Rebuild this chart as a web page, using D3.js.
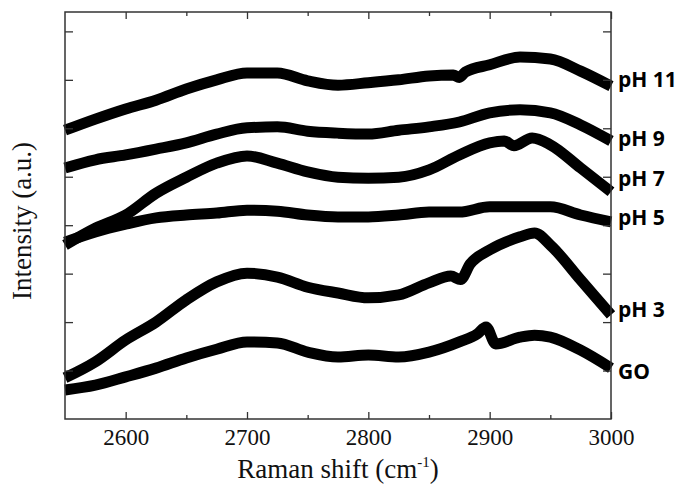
<!DOCTYPE html>
<html>
<head>
<meta charset="utf-8">
<script src="https://cdn.jsdelivr.net/npm/d3@7"></script>
<style>
  body { margin: 0; background: #fff; }
</style>
</head>
<body>
<svg id="chart"></svg>
<script>
// spectra: [Raman shift, intensity a.u. (offset)]
var pH11 = [[2550,5.96],[2575,6.19],[2600,6.40],[2625,6.58],[2650,6.81],[2675,7.00],[2700,7.14],[2725,7.14],
            [2750,6.98],[2775,6.89],[2800,6.94],[2825,7.00],[2850,7.08],[2870,7.10],[2875,7.05],[2880,7.16],
            [2900,7.31],[2925,7.47],[2950,7.43],[2975,7.18],[3000,6.87]];
var pH9 = [[2550,5.18],[2575,5.35],[2600,5.45],[2625,5.57],[2650,5.70],[2675,5.88],[2700,6.01],[2725,6.03],
           [2750,5.94],[2775,5.90],[2800,5.88],[2825,5.96],[2850,6.03],[2875,6.13],[2900,6.32],[2925,6.38],
           [2950,6.32],[2975,6.07],[3000,5.74]];
var pH7 = [[2550,3.59],[2575,3.94],[2600,4.21],[2625,4.66],[2650,4.99],[2675,5.28],[2700,5.43],[2725,5.28],
           [2750,5.10],[2775,4.99],[2800,4.97],[2825,4.99],[2850,5.14],[2875,5.45],[2900,5.70],[2912,5.74],
           [2920,5.64],[2935,5.80],[2950,5.66],[2975,5.18],[3000,4.69]];
var pH5 = [[2550,3.65],[2575,3.86],[2600,4.02],[2625,4.15],[2650,4.21],
           [2675,4.25],[2700,4.31],[2725,4.29],[2750,4.21],[2775,4.17],[2800,4.17],[2825,4.21],[2850,4.27],
           [2875,4.27],[2900,4.38],[2925,4.38],[2950,4.38],[2975,4.21],[3000,4.07]];
var pH3 = [[2550,0.85],[2575,1.18],[2600,1.63],[2625,2.00],[2650,2.46],[2675,2.83],[2700,3.01],[2725,2.93],
           [2750,2.72],[2775,2.60],[2800,2.50],[2825,2.56],[2850,2.81],[2868,2.95],[2876,2.88],[2884,3.20],
           [2900,3.49],[2925,3.76],[2937,3.84],[2950,3.59],[2975,2.87],[3000,2.15]];
var GO = [[2550,0.60],[2575,0.70],[2600,0.87],[2625,1.05],[2650,1.26],[2675,1.44],[2700,1.59],[2725,1.57],
          [2750,1.38],[2775,1.28],[2800,1.32],[2825,1.28],[2850,1.38],[2875,1.59],[2890,1.76],[2897,1.90],
          [2905,1.55],[2925,1.69],[2937,1.73],[2950,1.69],[2975,1.42],[3000,1.05]];

var seriesNames = ["pH 11", "pH 9", "pH 7", "pH 5", "pH 3", "GO"];
var seriesData = [pH11, pH9, pH7, pH5, pH3, GO];
var labelLevels = [7.0, 5.8, 4.97, 4.17, 2.27, 0.99];

var xMajorTicks = [2600, 2700, 2800, 2900, 3000];
var xMinorTicks = [2650, 2750, 2850, 2950];
var yTicks = [1, 2, 3, 4, 5, 6, 7, 8];

var serif = "Liberation Serif";
var sans = "Open Sans";

var dimensions = {
    width: 680,
    height: 488,
    margins: { top: 12, right: 69, bottom: 69, left: 65 }
};
var w = dimensions.width - dimensions.margins.left - dimensions.margins.right;
var h = dimensions.height - dimensions.margins.top - dimensions.margins.bottom;

var svg = d3.select("#chart")
    .attr("width", dimensions.width)
    .attr("height", dimensions.height);

var g = svg.append("g")
    .attr("transform", "translate(" + dimensions.margins.left + "," + dimensions.margins.top + ")");

var xScale = d3.scaleLinear().domain([2550, 3000]).range([0, w]);
var yScale = d3.scaleLinear().domain([0, 8.4]).range([h, 0]);

// spectra
var line = d3.line()
    .x(d => xScale(d[0]))
    .y(d => yScale(d[1]))
    .curve(d3.curveMonotoneX);

g.append("g")
    .selectAll("path")
    .data(seriesData)
    .enter()
    .append("path")
    .attr("d", line)
    .attr("fill", "none")
    .attr("stroke", "#000")
    .attr("stroke-width", 11)
    .attr("stroke-linejoin", "round");

// axes, ticks pointing inward
function styleAxis(sel) {
    sel.select(".domain").remove();
    sel.selectAll("line").attr("stroke", "#333").attr("stroke-width", 1.3);
}

g.append("g")
    .attr("transform", "translate(0," + h + ")")
    .call(d3.axisBottom(xScale).tickValues(xMajorTicks).tickSize(-7).tickPadding(10).tickFormat(d3.format("d")))
    .call(styleAxis)
    .selectAll("text")
    .style("font-family", serif)
    .style("font-size", "23px")
    .attr("fill", "#111");

g.append("g")
    .attr("transform", "translate(0," + h + ")")
    .call(d3.axisBottom(xScale).tickValues(xMinorTicks).tickSize(-4).tickFormat(""))
    .call(styleAxis);

g.append("g")
    .call(d3.axisTop(xScale).tickValues(xMajorTicks).tickSize(-7).tickFormat(""))
    .call(styleAxis);

g.append("g")
    .call(d3.axisTop(xScale).tickValues(xMinorTicks).tickSize(-4).tickFormat(""))
    .call(styleAxis);

g.append("g")
    .call(d3.axisLeft(yScale).tickValues(yTicks).tickSize(-8).tickFormat(""))
    .call(styleAxis);

g.append("g")
    .attr("transform", "translate(" + w + ",0)")
    .call(d3.axisRight(yScale).tickValues(yTicks).tickSize(-8).tickFormat(""))
    .call(styleAxis);

// frame
g.append("rect")
    .attr("width", w)
    .attr("height", h)
    .attr("fill", "none")
    .attr("stroke", "#333")
    .attr("stroke-width", 1.5);

// series labels on the right
g.append("g")
    .selectAll("text")
    .data(seriesNames)
    .enter()
    .append("text")
    .attr("x", w + 7)
    .attr("y", (d, i) => yScale(labelLevels[i]))
    .attr("dy", "0.36em")
    .style("font-family", sans)
    .style("font-weight", "bold")
    .style("font-size", "21px")
    .text(d => d);

// axis titles
var xTitle = svg.append("text")
    .attr("x", dimensions.margins.left + w / 2)
    .attr("y", 478)
    .attr("text-anchor", "middle")
    .style("font-family", serif)
    .style("font-size", "27px")
    .attr("fill", "#111");
xTitle.append("tspan").text("Raman shift (cm");
xTitle.append("tspan").style("font-size", "15px").attr("dy", -11).text("-1");
xTitle.append("tspan").attr("dy", 11).text(")");

svg.append("text")
    .attr("transform", "translate(31,221) rotate(-90)")
    .attr("text-anchor", "middle")
    .style("font-family", serif)
    .style("font-size", "27px")
    .attr("fill", "#111")
    .text("Intensity (a.u.)");
</script>
</body>
</html>
